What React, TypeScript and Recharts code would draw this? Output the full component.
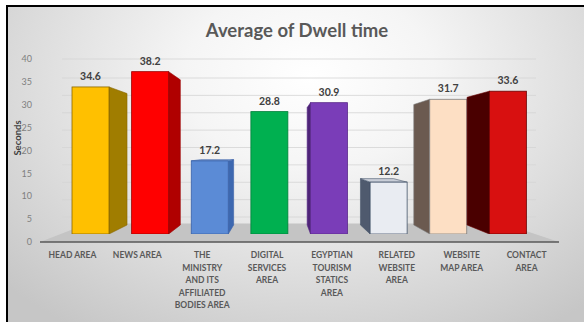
import React from 'react';
import {
  BarChart,
  Bar,
  Cell,
  XAxis,
  YAxis,
  CartesianGrid,
  LabelList,
  ReferenceArea,
} from 'recharts';

// Category names (line breaks are where the axis labels wrap)
const categories = [
  'HEAD AREA',
  'NEWS AREA',
  'THE\nMINISTRY\nAND ITS\nAFFILIATED\nBODIES AREA',
  'DIGITAL\nSERVICES\nAREA',
  'EGYPTIAN\nTOURISM\nSTATICS\nAREA',
  'RELATED\nWEBSITE\nAREA',
  'WEBSITE\nMAP AREA',
  'CONTACT\nAREA',
];

const dwellSeconds = [34.6, 38.2, 17.2, 28.8, 30.9, 12.2, 31.7, 33.6];

const yTicks = [0, 5, 10, 15, 20, 25, 30, 35, 40];

const FRONT_COLORS = ['#FFC000', '#FF0000', '#5B8BD6', '#00B050', '#7A3DB8', '#E9ECF2', '#FDDFC4', '#D81010'];
const SIDE_COLORS = ['#A07D00', '#B00000', '#3D68B0', '#007A38', '#4E2478', '#4F5A6E', '#6B5A50', '#4A0000'];
const TOP_COLORS = ['#FFD966', '#FF6666', '#8EAEE3', '#4FD08A', '#A57ED3', '#C9CED8', '#EFD3BC', '#A01010'];
const EDGE_COLORS = ['#8A6800', '#9A0000', '#3A62A8', '#00803A', '#5A2A8A', '#44546A', '#7F7F7F', '#6A0000'];

const FONT = 'Lato, "Open Sans", sans-serif';

// perspective: every face recedes toward this point
const VP = { x: 279, y: 149 };
const BAR_DEPTH = 0.106;
const FLOOR_DEPTH = 0.2;

type Pt = [number, number];
const recede = (p: Pt, t: number): Pt => [p[0] + (VP.x - p[0]) * t, p[1] + (VP.y - p[1]) * t];
const poly = (pts: Pt[]) => pts.map((p) => `${p[0]},${p[1]}`).join(' ');

const data = categories.map((name, i) => ({ name, seconds: dwellSeconds[i] }));

const Bar3D = (props: any) => {
  const { x, y, width, height } = props;
  const index = props.index ?? categories.indexOf(props.payload?.name);
  if (width == null || height == null) return null;
  const x2 = x + width;
  const y2 = y + height;
  const tl: Pt = [x, y];
  const tr: Pt = [x2, y];
  const bl: Pt = [x, y2];
  const br: Pt = [x2, y2];
  const b = (p: Pt) => recede(p, BAR_DEPTH);
  const edge = EDGE_COLORS[index];
  return (
    <g>
      {x2 < VP.x && (
        <polygon points={poly([tr, b(tr), b(br), br])} fill={SIDE_COLORS[index]} stroke={edge} strokeWidth={0.6} />
      )}
      {x > VP.x && (
        <polygon points={poly([tl, b(tl), b(bl), bl])} fill={SIDE_COLORS[index]} stroke={edge} strokeWidth={0.6} />
      )}
      {y > VP.y && (
        <polygon points={poly([tl, tr, b(tr), b(tl)])} fill={TOP_COLORS[index]} stroke={edge} strokeWidth={0.6} />
      )}
      <rect x={x} y={y} width={width} height={height} fill={FRONT_COLORS[index]} stroke={edge} strokeWidth={0.8} />
    </g>
  );
};

// grey floor plane, front edge on the category axis
const Floor = (props: any) => {
  const { x, y, width, height } = props;
  const fl: Pt = [x, y + height];
  const fr: Pt = [x + width, y + height];
  return (
    <polygon
      points={poly([fl, fr, recede(fr, FLOOR_DEPTH), recede(fl, FLOOR_DEPTH)])}
      fill="#C4C4C4"
    />
  );
};

const CategoryTick = (props: any) => {
  const { x, y, payload } = props;
  const lines = String(payload.value).split('\n');
  return (
    <text x={x} y={y + 8} textAnchor="middle" fill="#595959" fontFamily={FONT} fontSize={8.5} fontWeight={700}>
      {lines.map((line, i) => (
        <tspan key={i} x={x} dy={i === 0 ? 0 : 12.5}>
          {line}
        </tspan>
      ))}
    </text>
  );
};

export default function App() {
  return (
    <div style={{ position: 'absolute', left: 0, top: 0, width: 584, height: 322, overflow: 'hidden', background: '#fff' }}>
      <div
        style={{
          position: 'absolute',
          left: 6,
          top: 5,
          right: -4,
          bottom: -4,
          borderTop: '2px solid #000',
          borderLeft: '2px solid #000',
          background: 'radial-gradient(ellipse 72% 95% at 52% 22%, #ffffff 0%, #f5f5f5 30%, #dcdcdc 68%, #c6c6c6 100%)',
        }}
      />
      <div
        style={{
          position: 'absolute',
          left: 0,
          width: 594,
          top: 20.6,
          textAlign: 'center',
          fontFamily: FONT,
          fontWeight: 700,
          fontSize: 18.5,
          lineHeight: 1,
          color: '#595959',
        }}
      >
        Average of Dwell time
      </div>
      <div style={{ position: 'absolute', left: 0, top: 0 }}>
        <BarChart width={584} height={322} data={data} margin={{ top: 59, right: 25, bottom: 20, left: 0 }}>
          <XAxis
            xAxisId="front"
            dataKey="name"
            height={60}
            interval={0}
            tickLine={false}
            axisLine={{ stroke: '#595959', strokeWidth: 1.5 }}
            tick={<CategoryTick />}
          />
          <XAxis xAxisId="back" dataKey="name" hide orientation="top" height={0} padding={{ left: 21, right: 21 }} />
          <YAxis
            yAxisId="ticks"
            width={40}
            domain={[0, 40]}
            allowDataOverflow
            ticks={yTicks}
            interval={0}
            axisLine={false}
            tickLine={false}
            tick={{ fill: '#7F7F7F', fontSize: 9, fontFamily: FONT }}
          />
          <YAxis
            yAxisId="wall"
            hide
            orientation="right"
            width={0}
            domain={[0, 40]}
            allowDataOverflow
            ticks={yTicks}
            interval={0}
            padding={{ top: 19, bottom: 25 }}
          />
          <YAxis
            yAxisId="bars"
            hide
            orientation="right"
            width={0}
            domain={[0, 40]}
            allowDataOverflow
            padding={{ top: 5, bottom: 8 }}
          />
          <CartesianGrid
            xAxisId="front"
            yAxisId="wall"
            vertical={false}
            stroke="#D4D4D4"
            strokeWidth={0.8}
            x={62}
            width={474}
          />
          <ReferenceArea xAxisId="front" yAxisId="ticks" y1={0} y2={1} shape={<Floor />} />
          <Bar
            dataKey="seconds"
            xAxisId="back"
            yAxisId="bars"
            barSize={37}
            shape={<Bar3D />}
            isAnimationActive={false}
          >
            {data.map((d, i) => (
              <Cell key={d.name} fill={FRONT_COLORS[i]} />
            ))}
            <LabelList
              dataKey="seconds"
              position="top"
              offset={7}
              fill="#404040"
              fontFamily={FONT}
              fontSize={10.5}
              fontWeight={700}
            />
          </Bar>
        </BarChart>
      </div>
      <div
        style={{
          position: 'absolute',
          left: 17,
          top: 138,
          transform: 'translate(-50%, -50%) rotate(-90deg)',
          fontFamily: FONT,
          fontWeight: 700,
          fontSize: 9.5,
          color: '#404040',
          whiteSpace: 'nowrap',
        }}
      >
        Seconds
      </div>
    </div>
  );
}
